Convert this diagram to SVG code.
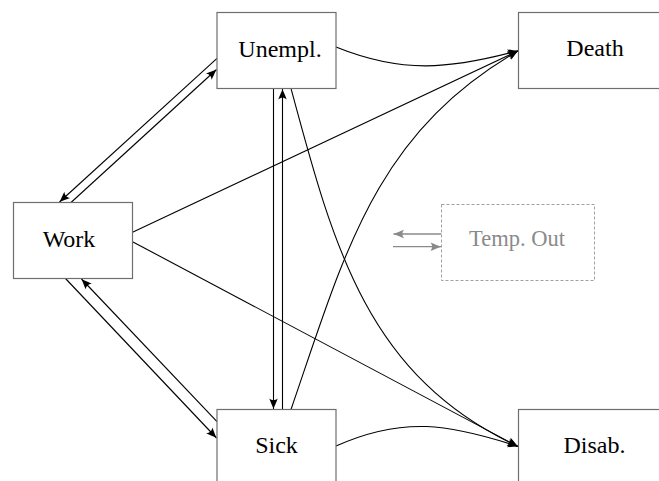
<svg xmlns="http://www.w3.org/2000/svg" width="659" height="481" viewBox="0 0 659 481">
<style>
.box{fill:#fff;stroke:#6e6e6e;stroke-width:1.2}
.tmp{fill:#fff;stroke:#a0a0a0;stroke-width:1;stroke-dasharray:3 2}
.lbl{font-size:24px;fill:#000;text-anchor:middle}
.glbl{font-size:22.5px;fill:#8a8a8a;text-anchor:middle}
.c{fill:none;stroke:#000;stroke-width:1.1}
.a{marker-end:url(#ah)}
.g{fill:none;stroke:#8a8a8a;stroke-width:1.3;marker-end:url(#gh)}
</style>
<defs>
<marker id="ah" markerUnits="userSpaceOnUse" viewBox="-11 -5 12 10" refX="0" refY="0" markerWidth="12" markerHeight="10" orient="auto">
<path d="M0,0 C-3,-1 -7,-3 -10.5,-4.2 C-8.3,-1.6 -8.3,1.6 -10.5,4.2 C-7,3 -3,1 0,0 Z" fill="#000"/>
</marker>
<marker id="gh" markerUnits="userSpaceOnUse" viewBox="-11 -5 12 10" refX="0" refY="0" markerWidth="12" markerHeight="10" orient="auto">
<path d="M0,0 C-3,-1 -7,-3 -10.5,-4.2 C-8.3,-1.6 -8.3,1.6 -10.5,4.2 C-7,3 -3,1 0,0 Z" fill="#8a8a8a"/>
</marker>
</defs>
<g id="connectors">
<line class="c a" x1="217" y1="58.3" x2="59.5" y2="202"/>
<line class="c a" x1="71" y1="202.5" x2="216.5" y2="69.5"/>
<line class="c a" x1="65.5" y1="278.5" x2="216.5" y2="438"/>
<line class="c a" x1="217" y1="421.7" x2="81.5" y2="279"/>
<line class="c a" x1="273.5" y1="88.5" x2="273.5" y2="409"/>
<line class="c a" x1="282.5" y1="409.5" x2="282.5" y2="89"/>
<line class="c a" x1="132.5" y1="232.3" x2="518" y2="50.9"/>
<line class="c a" x1="132.5" y1="241.7" x2="518" y2="446.5"/>
<path class="c a" d="M336,47 C402.3,73.8 449.4,69.2 518,50.8"/>
<path class="c a" d="M336,446 C403,416 449.4,424 518,446.5"/>
<path class="c a" d="M291,88.5 C334,248.8 368,376.5 518,446.5"/>
<path class="c a" d="M291,409.5 C345,252.5 374.7,133.7 518,50.9"/>
<line class="g" x1="441.5" y1="234" x2="393.5" y2="234"/>
<line class="g" x1="393" y1="246.7" x2="441" y2="246.7"/>
</g>
<g id="unempl"><rect class="box" x="217" y="12.5" width="119" height="76"/><text class="lbl" font-family="Liberation Serif, DejaVu Serif, serif" x="280" y="56.5">Unempl.</text></g>
<g id="death"><rect class="box" x="518.5" y="12.5" width="153" height="76"/><text class="lbl" font-family="Liberation Serif, DejaVu Serif, serif" x="595" y="56">Death</text></g>
<g id="work"><rect class="box" x="13.5" y="202.5" width="119" height="76"/><text class="lbl" font-family="Liberation Serif, DejaVu Serif, serif" x="69" y="246.5">Work</text></g>
<g id="tempout"><rect class="tmp" x="441.5" y="204.5" width="153" height="76"/><text class="glbl" font-family="Liberation Serif, DejaVu Serif, serif" x="517" y="245.5">Temp. Out</text></g>
<g id="sick"><rect class="box" x="217" y="409.5" width="119" height="76"/><text class="lbl" font-family="Liberation Serif, DejaVu Serif, serif" x="276.5" y="453.3">Sick</text></g>
<g id="disab"><rect class="box" x="518.5" y="409.5" width="153" height="76"/><text class="lbl" font-family="Liberation Serif, DejaVu Serif, serif" x="594.5" y="453.3">Disab.</text></g>
</svg>
